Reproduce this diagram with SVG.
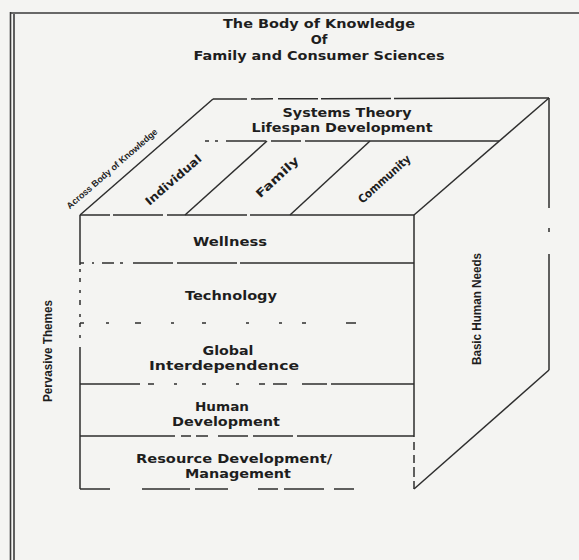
<svg xmlns="http://www.w3.org/2000/svg" width="579" height="560" viewBox="0 0 579 560">
<style>
.bg{fill:#f4f4f2}
.frame{stroke:#3a3a3a;stroke-width:1.6;fill:none}
.edge{stroke:#2e2e2e;stroke-width:1.5;fill:none;stroke-linecap:butt}
.lbl{font-family:"DejaVu Sans",sans-serif;font-weight:bold;font-size:11.5px;fill:#1e1e1e;text-anchor:middle}
.ttl{font-family:"DejaVu Sans",sans-serif;font-weight:bold;font-size:13px;fill:#1e1e1e;text-anchor:middle}
.side{font-family:"Liberation Sans",Arial,sans-serif;font-weight:bold;font-size:13px;fill:#1e1e1e;text-anchor:middle}
.diag{font-family:"DejaVu Sans",sans-serif;font-weight:bold;font-size:11.5px;fill:#1e1e1e;text-anchor:middle}
.small{font-family:"Liberation Sans",Arial,sans-serif;font-weight:bold;font-size:9px;fill:#1e1e1e;text-anchor:middle}
</style>
<rect class="bg" x="0" y="0" width="579" height="560"/>
<g id="frame">
<line class="frame" x1="10.5" y1="12" x2="10.5" y2="560"/>
<line class="frame" x1="14" y1="14" x2="14" y2="560" stroke-width="1"/>
<line class="frame" x1="10" y1="13" x2="579" y2="13" stroke-width="2"/>
</g>
<g id="title">
<text class="ttl" x="319" y="28" textLength="192" lengthAdjust="spacingAndGlyphs">The Body of Knowledge</text>
<text class="ttl" x="319" y="44">Of</text>
<text class="ttl" x="319" y="60" textLength="251" lengthAdjust="spacingAndGlyphs">Family and Consumer Sciences</text>
</g>
<g id="connectors">
<line class="edge" x1="213" y1="99" x2="549" y2="98" stroke-dasharray="34,4,22,5,40,3,70,3,200,0"/>
<line class="edge" x1="205" y1="141" x2="499" y2="141" stroke-dasharray="4,6,3,8,40,5,30,4,250,0"/>
<line class="edge" x1="80" y1="215" x2="213" y2="99"/>
<line class="edge" x1="185" y1="215" x2="267" y2="141"/>
<line class="edge" x1="290" y1="215" x2="370" y2="141"/>
<line class="edge" x1="414" y1="215" x2="549" y2="98"/>
<line class="edge" x1="80" y1="215" x2="414" y2="215" stroke-dasharray="30,3,50,4,80,3,200,0"/>
<line class="edge" x1="80" y1="215" x2="80" y2="489" stroke-dasharray="50,4,3,6,4,8,3,7,5,9,3,6,4,8,3,9,200,0"/>
<line class="edge" x1="414" y1="215" x2="414" y2="489" stroke-dasharray="222,5,8,5,8,4,10,4,10,0"/>
<line class="edge" x1="80" y1="263" x2="414" y2="263" stroke-dasharray="4,8,2,8,12,6,3,10,40,4,60,3,200,0"/>
<line class="edge" x1="80" y1="323" x2="414" y2="323" stroke-dasharray="4,22,3,26,6,30,3,28,4,40,3,30,3,20,4,40,10,200"/>
<line class="edge" x1="80" y1="384" x2="414" y2="384" stroke-dasharray="60,8,6,20,3,25,4,30,3,20,6,8,14,15,25,4,40,0"/>
<line class="edge" x1="80" y1="436" x2="414" y2="436" stroke-dasharray="95,6,10,5,12,10,30,5,40,4,140,0"/>
<line class="edge" x1="80" y1="489" x2="414" y2="489" stroke-dasharray="30,32,48,5,33,30,20,6,40,10,20,200"/>
<line class="edge" x1="549" y1="98" x2="549" y2="370" stroke-dasharray="110,20,4,22,200,0"/>
<line class="edge" x1="549" y1="370" x2="414" y2="489"/>
</g>
<g id="node-systems">
<text class="lbl" x="347" y="117" textLength="129" lengthAdjust="spacingAndGlyphs">Systems Theory</text>
<text class="lbl" x="342" y="132" textLength="181" lengthAdjust="spacingAndGlyphs">Lifespan Development</text>
</g>
<g id="node-across">
<text class="small" x="114" y="171" transform="rotate(-41 114 171)" textLength="117" lengthAdjust="spacingAndGlyphs">Across Body of Knowledge</text>
</g>
<g id="node-individual">
<text class="diag" x="176" y="183" transform="rotate(-41 176 183)" textLength="70" lengthAdjust="spacingAndGlyphs">Individual</text>
</g>
<g id="node-family">
<text class="diag" x="280" y="180" transform="rotate(-43 280 180)" textLength="54" lengthAdjust="spacingAndGlyphs">Family</text>
</g>
<g id="node-community">
<text class="diag" x="387" y="182" transform="rotate(-42 387 182)" textLength="66" lengthAdjust="spacingAndGlyphs">Community</text>
</g>
<g id="node-wellness">
<text class="lbl" x="230" y="246" textLength="74" lengthAdjust="spacingAndGlyphs">Wellness</text>
</g>
<g id="node-technology">
<text class="lbl" x="231" y="300" textLength="92" lengthAdjust="spacingAndGlyphs">Technology</text>
</g>
<g id="node-global">
<text class="lbl" x="228" y="355" textLength="51" lengthAdjust="spacingAndGlyphs">Global</text>
<text class="lbl" x="224" y="370" textLength="150" lengthAdjust="spacingAndGlyphs">Interdependence</text>
</g>
<g id="node-human">
<text class="lbl" x="222" y="411" textLength="54" lengthAdjust="spacingAndGlyphs">Human</text>
<text class="lbl" x="226" y="426" textLength="108" lengthAdjust="spacingAndGlyphs">Development</text>
</g>
<g id="node-resource">
<text class="lbl" x="234" y="463" textLength="196" lengthAdjust="spacingAndGlyphs">Resource Development/</text>
<text class="lbl" x="238" y="478" textLength="106" lengthAdjust="spacingAndGlyphs">Management</text>
</g>
<g id="node-pervasive">
<text class="side" x="52" y="351" transform="rotate(-90 52 351)" textLength="102" lengthAdjust="spacingAndGlyphs">Pervasive Themes</text>
</g>
<g id="node-basic">
<text class="side" x="481" y="309" transform="rotate(-90 481 309)" textLength="112" lengthAdjust="spacingAndGlyphs">Basic Human Needs</text>
</g>
</svg>
